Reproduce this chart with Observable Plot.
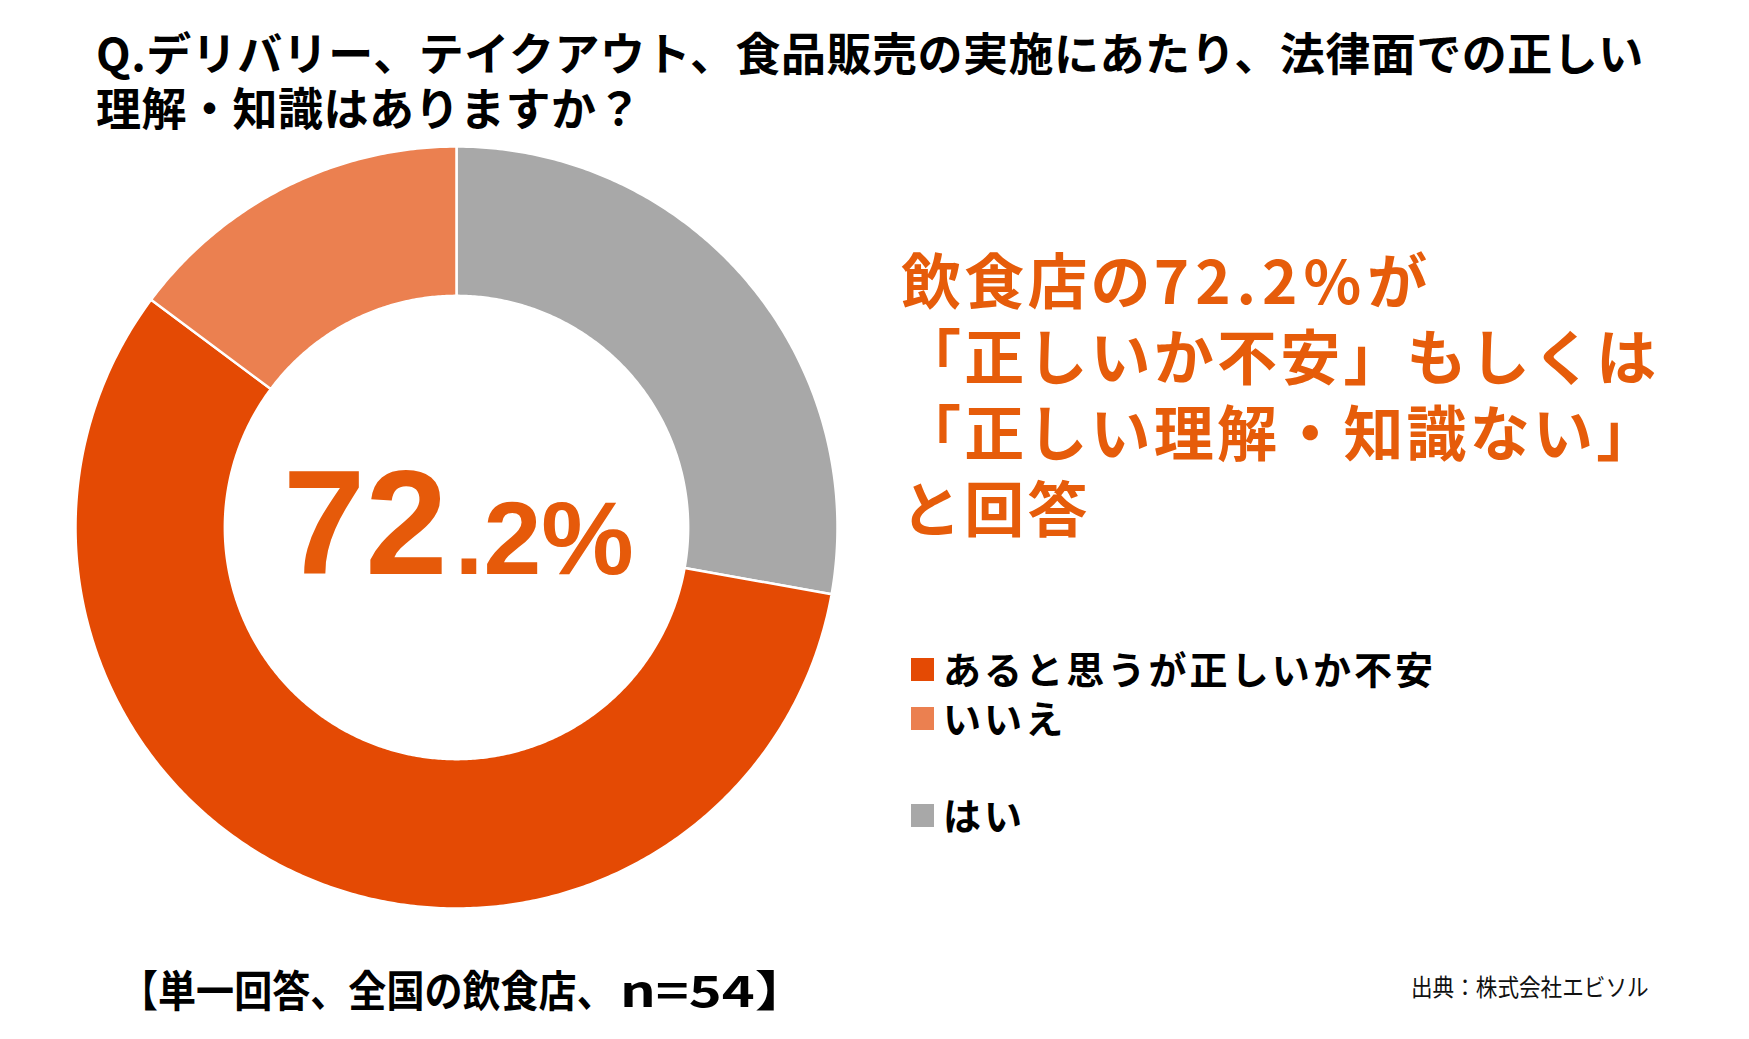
<!DOCTYPE html>
<html>
<head>
<meta charset="utf-8">
<script src="https://cdn.jsdelivr.net/npm/d3@7"></script>
<script src="https://cdn.jsdelivr.net/npm/@observablehq/plot@0.6"></script>
<style>
  body { margin: 0; background: #fff; }
  #page { position: relative; width: 1749px; height: 1039px; overflow: hidden; background: #fff;
          font-family: "Noto Sans CJK JP", "Noto Sans", sans-serif; color: #000; }
  .abs { position: absolute; white-space: nowrap; }
  #title { left: 96px; top: 24px; font-size: 45px; line-height: 55px; font-weight: 700; letter-spacing: 0.5px; }
  #chart { left: 0px; top: 137px; }
  #callout { left: 901px; top: 240px; font-size: 60px; line-height: 76px; font-weight: 700;
             color: #E65C0A; letter-spacing: 3.2px; }
  #callout .num { letter-spacing: 6px; }
  #legend { left: 911px; top: 643px; font-size: 38px; font-weight: 700; letter-spacing: 3.1px; }
  .row { display: flex; align-items: center; height: 49px; }
  .sw { width: 23px; height: 23px; margin-right: 9px; position: relative; top: 2px; flex: none; }
  .cap { top: 963px; font-size: 43px; line-height: 50px; font-weight: 700; }
  #captionA { left: 120px; transform: scaleX(0.885); transform-origin: left center; }
  #captionB { left: 620px; transform: scaleX(1.3); transform-origin: left center; }
  #source { left: 1411px; top: 972px; font-size: 24px; line-height: 28px; font-weight: 400; color: #111;
            transform: scaleX(0.9); transform-origin: left center; }
</style>
</head>
<body>
<div id="page">
  <div id="title" class="abs"></div>
  <div id="chart" class="abs"></div>
  <div id="callout" class="abs"></div>
  <div id="legend" class="abs"></div>
  <div id="captionA" class="abs cap"></div>
  <div id="captionB" class="abs cap"></div>
  <div id="source" class="abs"></div>
</div>
<script>
// ---- data ----
const titleLines = [
  "Q.デリバリー、テイクアウト、食品販売の実施にあたり、法律面での正しい",
  "理解・知識はありますか？"
];
// slices in clockwise order starting at 12 o'clock
const categories = ["はい", "あると思うが正しいか不安", "いいえ"];
const values = [27.8, 57.4, 14.8];
const sliceColors = ["#A8A8A8", "#E44A04", "#EB8050"];
const legendOrder = ["あると思うが正しいか不安", "いいえ", "はい"];
const centerMajor = "72";
const centerMinor = ".2%";
const calloutLines = [
  ["飲食店の", "72.2%", "が"],
  ["「正しいか不安」もしくは"],
  ["「正しい理解・知識ない」"],
  ["と回答"]
];
const captionParts = ["【単一回答、全国の飲食店、", "n=54】"];
const sourceText = "出典：株式会社エビソル";

// ---- text blocks ----
document.getElementById("title").innerHTML = titleLines.map(t => `<div>${t}</div>`).join("");
document.getElementById("callout").innerHTML = calloutLines.map(parts =>
  `<div>${parts.map(p => /^[0-9.%]+$/.test(p) ? `<span class="num">${p}</span>` : p).join("")}</div>`
).join("");
document.getElementById("captionA").textContent = captionParts[0];
document.getElementById("captionB").textContent = captionParts[1];
document.getElementById("source").textContent = sourceText;

const colorOf = new Map(categories.map((c, i) => [c, sliceColors[i]]));
const legend = document.getElementById("legend");
legendOrder.forEach((c, i) => {
  const row = document.createElement("div");
  row.className = "row";
  if (i === 2) row.style.marginTop = "48px";
  row.innerHTML = `<div class="sw" style="background:${colorOf.get(c)}"></div><div>${c}</div>`;
  legend.appendChild(row);
});

// ---- donut ----
const rows = categories.map((c, i) => ({key: c, value: values[i]}));
const arcs = d3.pie().sort(null).value(d => d.value).startAngle(0).endAngle(2 * Math.PI)(rows);
const R1 = 1.0, R0 = 0.608;
const pts = [];
for (const a of arcs) {
  const n = Math.max(4, Math.ceil((a.endAngle - a.startAngle) / (2 * Math.PI) * 720));
  const ring = [];
  for (let i = 0; i <= n; i++) {
    const t = a.startAngle + (a.endAngle - a.startAngle) * i / n;
    ring.push({key: a.data.key, x: R1 * Math.sin(t), y: R1 * Math.cos(t)});
  }
  for (let i = n; i >= 0; i--) {
    const t = a.startAngle + (a.endAngle - a.startAngle) * i / n;
    ring.push({key: a.data.key, x: R0 * Math.sin(t), y: R0 * Math.cos(t)});
  }
  ring.push(ring[0]);
  pts.push(...ring);
}

const W = 912, H = 780, pxPerUnit = 381;
const chart = Plot.plot({
  width: W,
  height: H,
  margin: 0,
  style: {background: "transparent", overflow: "visible"},
  x: {domain: [-W / 2 / pxPerUnit, W / 2 / pxPerUnit], axis: null},
  y: {domain: [-H / 2 / pxPerUnit, H / 2 / pxPerUnit], axis: null},
  color: {domain: categories, range: sliceColors},
  marks: [
    Plot.line(pts, {x: "x", y: "y", z: "key", fill: "key", stroke: "#fff", strokeWidth: 2.5, curve: "linear"}),
    Plot.text([centerMajor], {text: d => d, frameAnchor: "middle", textAnchor: "end", lineAnchor: "bottom",
      dx: -9, dy: 46, fontSize: 148, fontWeight: 700, fontFamily: "Liberation Sans, Arial, sans-serif", fill: "#E65A0A"}),
    Plot.text([centerMinor], {text: d => d, frameAnchor: "middle", textAnchor: "start", lineAnchor: "bottom",
      dx: -2, dy: 46, fontSize: 104, fontWeight: 700, fontFamily: "Liberation Sans, Arial, sans-serif", fill: "#E65A0A"})
  ]
});
document.getElementById("chart").appendChild(chart);
</script>
</body>
</html>
